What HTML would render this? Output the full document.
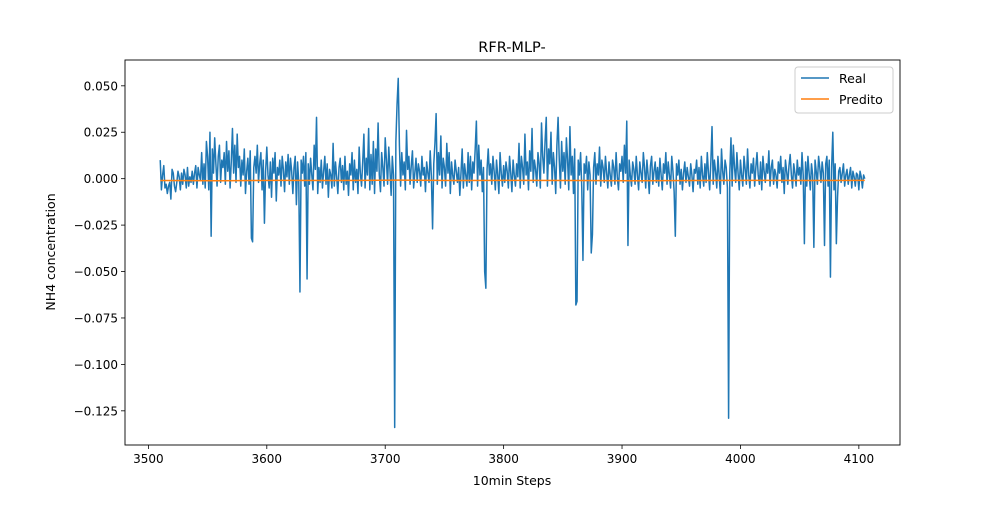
<!DOCTYPE html>
<html><head><meta charset="utf-8"><style>
body{margin:0;background:#fff;}
svg text{font-family:"DejaVu Sans","Liberation Sans",sans-serif;fill:#000;}
</style></head><body>
<svg id="chart" width="1000" height="500" xmlns="http://www.w3.org/2000/svg">
<rect x="0" y="0" width="1000" height="500" fill="#fff"/>
<text x="512" y="52" font-size="14.5" text-anchor="middle">RFR-MLP-</text>
<text x="512" y="485" font-size="12.5" text-anchor="middle">10min Steps</text>
<text transform="translate(55,252) rotate(-90)" font-size="12.5" text-anchor="middle">NH4 concentration</text>
<g id="plot"></g>
<rect x="125" y="60" width="775" height="385" fill="none" stroke="#000" stroke-width="0.9"/>
<g>
<rect x="795" y="67" width="98" height="46" rx="3" fill="#fff" fill-opacity="0.8" stroke="#ccc"/>
<line x1="801" y1="78" x2="829" y2="78" stroke="#1f77b4" stroke-width="1.6"/>
<text x="839" y="83" font-size="12.5">Real</text>
<line x1="801" y1="99" x2="829" y2="99" stroke="#ff7f0e" stroke-width="1.6"/>
<text x="839" y="104" font-size="12.5">Predito</text>
</g>
</svg>
<script>
const xStart = 3510;
const realVals = [
10,-6,2,7,-5,-3,-8,-4,-2,-11,5,3,-4,-7,-2,4,1,-6,3,-3,
5,2,-5,6,-4,1,-2,4,-3,3,7,-5,6,2,-1,14,-3,8,-5,20,
12,-6,25,-31,16,3,22,8,-4,12,18,-2,10,6,14,-3,20,4,15,-5,
9,27,3,18,-2,24,6,12,-4,10,2,16,-8,4,11,-3,15,-32,-34,6,
12,3,18,-2,8,14,-6,10,-24,4,17,2,-5,9,-10,11,3,14,-12,6,
2,10,-4,12,5,-7,9,1,13,-3,11,4,-8,6,12,-14,9,-2,-61,10,
3,12,-4,14,-54,8,-3,11,2,-6,18,5,33,-8,6,-2,10,-5,4,12,
-3,8,-10,5,2,-5,19,-4,9,1,-8,6,11,-2,7,-6,12,-3,4,-9,
8,2,14,-6,10,-2,5,-8,17,3,-4,9,24,-5,11,2,27,-6,13,-3,
20,-8,16,4,30,2,-7,14,6,-4,22,10,-3,17,5,-9,12,2,-134,20,
40,54,18,-4,14,2,9,-6,26,5,12,-3,7,15,-5,3,11,-2,8,4,
-4,12,2,6,-7,9,3,-2,15,1,-27,8,19,35,-3,14,2,23,-5,11,
6,-4,19,3,14,-8,9,2,-3,10,4,-2,6,-9,3,16,-5,8,2,-4,
14,-2,12,-6,9,3,16,31,-4,18,2,10,-7,6,-50,-59,5,16,2,8,
-3,12,4,-6,10,2,-8,14,3,-4,7,-2,9,4,-5,12,3,-7,10,2,
-4,8,1,19,-5,12,6,-3,24,2,9,-6,15,4,27,-2,10,5,-4,14,
8,-5,30,12,3,20,33,-4,16,8,25,-3,14,6,-8,18,33,10,-5,20,
4,14,-3,22,10,-6,28,2,12,-8,16,-68,-66,10,2,14,-5,-44,8,3,
12,-6,9,2,-40,-30,6,14,-3,8,2,17,-4,10,6,-2,12,3,-5,9,
2,-4,10,6,-3,14,1,-6,8,4,12,-2,18,3,31,-36,10,2,-4,9,
5,-3,12,2,-6,9,3,-2,14,6,-5,10,2,-8,7,12,-3,4,9,-2,
6,-4,11,2,-6,8,3,14,-3,9,2,-5,12,4,-7,-31,8,2,10,-3,
5,-6,3,9,-2,6,1,-4,8,2,-7,5,3,10,-3,6,-5,12,2,-4,
8,-2,14,3,-6,9,28,-3,10,4,-5,12,2,-8,16,4,-3,10,6,-5,
-129,3,22,-4,18,6,-2,14,3,-6,10,2,-4,12,5,-3,16,2,-5,8,
3,11,-4,6,14,2,-3,9,-6,12,4,-2,8,3,15,-4,6,10,-3,5,
2,-5,9,3,12,-2,6,-8,10,4,-3,7,13,2,-5,8,3,-4,10,2,
6,-3,14,2,-35,9,-4,12,3,-6,8,2,-37,10,4,-3,12,6,-2,9,
3,-36,8,12,-4,10,-53,6,25,-6,8,-35,-10,4,6,-2,3,8,-4,2,
5,-3,2,6,-5,4,1,-4,3,2,-6,4,1,-5,2,0
];
const predX = [3510,3560,3610,3660,3710,3760,3810,3860,3910,3960,4010,4060,4105];
const predVals = [-1.0,-1.1,-0.9,-1.0,-0.8,-1.0,-0.9,-1.0,-1.1,-1.0,-0.9,-1.0,-0.9];
const xTicks = [3500,3600,3700,3800,3900,4000,4100];
const yTicks = [0.05,0.025,0,-0.025,-0.05,-0.075,-0.1,-0.125];
const yTickLabels = ["0.050","0.025","0.000","\u22120.025","\u22120.050","\u22120.075","\u22120.100","\u22120.125"];

const L=125,R=900,T=60,B=445;
const xMin=3480.25,xMax=4134.75,yMin=-0.1434,yMax=0.0639;
const sx=v=>L+(v-xMin)/(xMax-xMin)*(R-L);
const sy=v=>B-(v-yMin)/(yMax-yMin)*(B-T);
const NS="http://www.w3.org/2000/svg";
const g=document.getElementById('plot');
function mk(tag,attrs){const e=document.createElementNS(NS,tag);for(const k in attrs)e.setAttribute(k,attrs[k]);return e;}

xTicks.forEach((t,i)=>{
  const tk=mk('line',{x1:sx(t),x2:sx(t),y1:B,y2:B+4,stroke:'#000','stroke-width':0.8});
  
  
  g.appendChild(tk);
  const tx=mk('text',{x:sx(t),y:B+18,'font-size':12,'text-anchor':'middle'});
  tx.textContent=t;
  
  
  g.appendChild(tx);
});
yTicks.forEach((t,i)=>{
  const tk=mk('line',{x1:L-4,x2:L,y1:sy(t),y2:sy(t),stroke:'#000','stroke-width':0.8});
  
  
  g.appendChild(tk);
  const tx=mk('text',{x:L-7,y:sy(t)+4.5,'font-size':12,'text-anchor':'end'});
  tx.textContent=yTickLabels[i];
  
  
  g.appendChild(tx);
});

const realPts=realVals.map((v,i)=>sx(xStart+i).toFixed(2)+','+sy(v/1000).toFixed(2)).join(' ');
const realLine=mk('polyline',{points:realPts,fill:'none',stroke:'#1f77b4','stroke-width':1.5,'stroke-linejoin':'round'});


g.appendChild(realLine);

const predPts=predVals.map((v,i)=>sx(predX[i]).toFixed(2)+','+sy(v/1000).toFixed(2)).join(' ');
const predLine=mk('polyline',{points:predPts,fill:'none',stroke:'#ff7f0e','stroke-width':1.5});


g.appendChild(predLine);
</script>
</body></html>
